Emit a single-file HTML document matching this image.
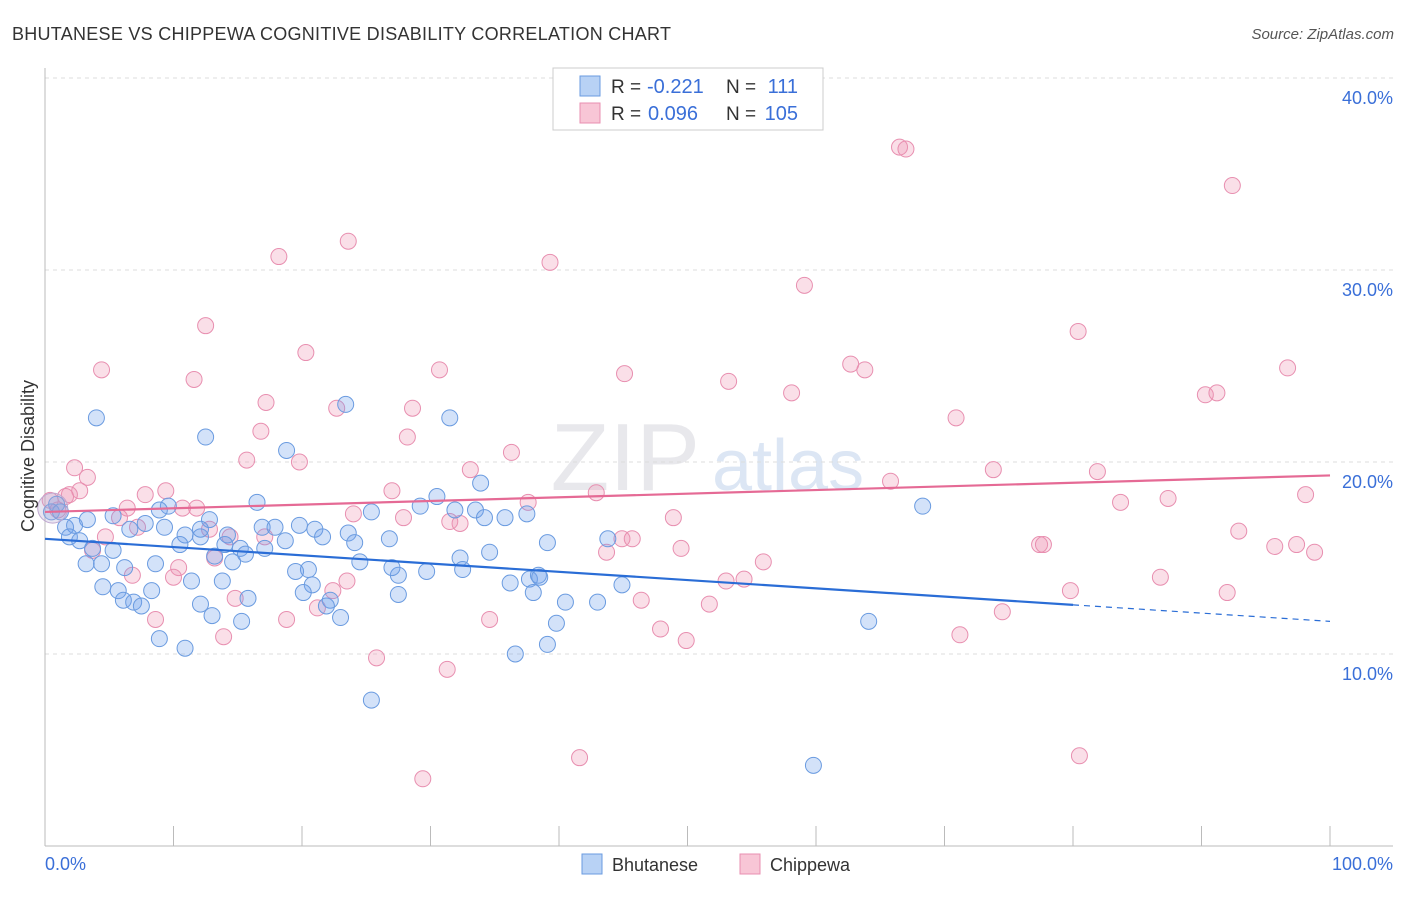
<!DOCTYPE html>
<html><head><meta charset="utf-8"><style>
body{margin:0;background:#fff;font-family:"Liberation Sans",sans-serif;}
svg text{font-family:"Liberation Sans",sans-serif;}
</style></head><body>
<svg id="chart" width="1406" height="892">
<text x="12" y="40" font-size="18" fill="#333" textLength="659">BHUTANESE VS CHIPPEWA COGNITIVE DISABILITY CORRELATION CHART</text>
<text x="1394" y="39" font-size="15" fill="#555" text-anchor="end" font-style="italic">Source: ZipAtlas.com</text>
<text x="700" y="490" font-size="96" fill="#e8e8ec" text-anchor="end" font-family="Liberation Serif">ZIP</text>
<text x="712" y="490" font-size="72" fill="#dce6f4">atlas</text>
<g id="grid"></g><g id="axes"></g><g id="pts"></g><g id="trends"></g>
<text transform="translate(34,456) rotate(-90)" font-size="18" fill="#333" text-anchor="middle">Cognitive Disability</text>
<text x="45" y="870" font-size="18" fill="#3a6fd8">0.0%</text>
<text x="1393" y="870" font-size="18" fill="#3a6fd8" text-anchor="end">100.0%</text>
<g>
<rect x="553" y="68" width="270" height="62" fill="#fff" stroke="#ccc"/>
<rect x="580" y="76" width="20" height="20" fill="#b8d2f5" stroke="#6a9be0"/>
<rect x="580" y="103" width="20" height="20" fill="#f8c6d6" stroke="#e88fb0"/>
<text x="611" y="93" font-size="19" fill="#333">R =</text>
<text x="647" y="93" font-size="20" fill="#3a6fd8">-0.221</text>
<text x="726" y="93" font-size="19" fill="#333">N =</text>
<text x="798" y="93" font-size="20" fill="#3a6fd8" text-anchor="end">111</text>
<text x="611" y="120" font-size="19" fill="#333">R =</text>
<text x="648" y="120" font-size="20" fill="#3a6fd8">0.096</text>
<text x="726" y="120" font-size="19" fill="#333">N =</text>
<text x="798" y="120" font-size="20" fill="#3a6fd8" text-anchor="end">105</text>
</g>
<g><rect x="582" y="854" width="20" height="20" fill="#b8d2f5" stroke="#6a9be0"/><text x="612" y="871" font-size="18" fill="#333">Bhutanese</text></g>
<g><rect x="740" y="854" width="20" height="20" fill="#f8c6d6" stroke="#e88fb0"/><text x="770" y="871" font-size="18" fill="#333">Chippewa</text></g>
</svg>
<script>
const yTicks=[10,20,30,40];
const xTickVals=[0,10,20,30,40,50,60,70,80,90,100];
const blueX=[4.0,12.5,18.8,23.4,31.5,33.9,30.5,68.3,16.5,9.6,29.2,25.4,31.9,33.5,35.8,37.5,34.2,0.9,0.5,1.2,3.3,1.6,2.3,9.3,7.8,6.6,12.8,10.9,14.2,16.9,17.9,19.8,21.0,21.6,23.6,26.8,43.8,39.1,1.9,2.7,5.3,10.5,12.1,15.2,17.1,18.7,14.0,24.1,3.7,3.2,4.4,6.2,8.6,13.2,14.6,15.6,27.5,27.0,32.3,34.6,32.5,29.7,20.5,19.5,4.5,5.7,8.3,11.4,13.8,20.8,20.1,27.5,24.5,36.2,37.7,38.4,38.5,38.0,44.9,40.5,43.0,6.1,6.9,7.5,12.1,13.0,15.8,22.2,21.9,23.0,15.3,39.8,64.1,8.9,10.9,36.6,39.1,25.4,59.8,8.9,5.3,12.1];
const blueY=[22.3,21.3,20.6,23.0,22.3,18.9,18.2,17.7,17.9,17.7,17.7,17.4,17.5,17.5,17.1,17.3,17.1,17.8,17.4,17.4,17.0,16.6,16.7,16.6,16.8,16.5,17.0,16.2,16.2,16.6,16.6,16.7,16.5,16.1,16.3,16.0,16.0,15.8,16.1,15.9,15.4,15.7,16.1,15.5,15.5,15.9,15.7,15.8,15.5,14.7,14.7,14.5,14.7,15.1,14.8,15.2,14.1,14.5,15.0,15.3,14.4,14.3,14.4,14.3,13.5,13.3,13.3,13.8,13.8,13.6,13.2,13.1,14.8,13.7,13.9,14.1,14.0,13.2,13.6,12.7,12.7,12.8,12.7,12.5,12.6,12.0,12.9,12.8,12.5,11.9,11.7,11.6,11.7,10.8,10.3,10.0,10.5,7.6,4.2,17.5,17.2,16.5];
const pinkX=[66.5,67.0,92.4,23.6,18.2,39.3,59.1,12.5,20.3,80.4,11.6,4.4,30.7,45.1,53.2,62.7,63.8,96.7,58.1,90.3,91.2,17.2,22.7,28.6,70.9,16.8,28.2,36.3,15.7,19.8,2.3,3.3,33.1,73.8,81.9,65.8,87.4,98.1,2.7,1.9,9.4,7.8,27.0,42.9,83.7,37.6,6.4,10.7,11.8,5.8,12.8,24.0,27.9,31.5,32.3,48.9,7.2,4.7,14.4,17.1,44.9,45.7,77.4,77.7,92.9,95.7,97.4,98.8,49.5,43.7,3.7,13.2,10.4,10.0,6.8,23.5,22.4,21.2,14.8,53.0,54.4,55.9,86.8,79.8,92.0,46.4,51.7,74.5,8.6,18.8,34.6,47.9,49.9,71.2,13.9,25.8,31.3,41.6,80.5,29.4,0.4,1.0,1.6];
const pinkY=[36.4,36.3,34.4,31.5,30.7,30.4,29.2,27.1,25.7,26.8,24.3,24.8,24.8,24.6,24.2,25.1,24.8,24.9,23.6,23.5,23.6,23.1,22.8,22.8,22.3,21.6,21.3,20.5,20.1,20.0,19.7,19.2,19.6,19.6,19.5,19.0,18.1,18.3,18.5,18.3,18.5,18.3,18.5,18.4,17.9,17.9,17.6,17.6,17.6,17.1,16.5,17.3,17.1,16.9,16.8,17.1,16.6,16.1,16.1,16.1,16.0,16.0,15.7,15.7,16.4,15.6,15.7,15.3,15.5,15.3,15.4,15.0,14.5,14.0,14.1,13.8,13.3,12.4,12.9,13.8,13.9,14.8,14.0,13.3,13.2,12.8,12.6,12.2,11.8,11.8,11.8,11.3,10.7,11.0,10.9,9.8,9.2,4.6,4.7,3.5,18.0,17.5,18.2];
const blueTrend=[16.0,11.7];
const blueSolidEnd=80;
const pinkTrend=[17.4,19.3];
const NS='http://www.w3.org/2000/svg';
const X0=45,X1=1330,YB=846,PPU=19.2;
function xs(v){return X0+(X1-X0)*v/100;}
function ys(v){return YB-v*PPU;}
function mk(t,a,p){const e=document.createElementNS(NS,t);for(const k in a)e.setAttribute(k,a[k]);p.appendChild(e);return e;}
const grid=document.getElementById('grid');
yTicks.forEach(t=>{
 const l=mk('line',{x1:X0,x2:1393,y1:ys(t),y2:ys(t),stroke:'#ddd','stroke-dasharray':'4,4'},grid);
 
 
 const tx=mk('text',{x:1393,y:ys(t)+26,'font-size':18,fill:'#3a6fd8','text-anchor':'end'},grid);
 tx.textContent=t.toFixed(1)+'%';
 
 
});
const axes=document.getElementById('axes');
const ya=mk('line',{x1:X0,x2:X0,y1:68,y2:YB,stroke:'#bbb'},axes);


const xa=mk('line',{x1:X0,x2:1393,y1:YB,y2:YB,stroke:'#bbb'},axes);


xTickVals.forEach(v=>{
 const t=mk('line',{x1:xs(v),x2:xs(v),y1:826,y2:YB,stroke:'#bbb'},axes);
 
 
});
const pts=document.getElementById('pts');
function drawPts(X,Y,fill,stroke,name){X.forEach((x,i)=>{
 const c=mk('circle',{cx:xs(x),cy:ys(Y[i]),r:8,fill:fill,stroke:stroke,'stroke-width':1},pts);
 
 
});}
drawPts(pinkX,pinkY,'rgba(240,150,180,0.3)','#e88fb0','chippewa-point');
drawPts(blueX,blueY,'rgba(110,160,235,0.3)','#6a9be0','bhutanese-point');
const big=mk('circle',{cx:xs(0.6),cy:ys(17.6),r:15,fill:'rgba(180,170,210,0.3)',stroke:'#c0a8d0'},pts);


const tr=document.getElementById('trends');
function lin(a,v){return a[0]+(a[1]-a[0])*v/100;}
const b1=mk('line',{x1:xs(0),y1:ys(blueTrend[0]),x2:xs(blueSolidEnd),y2:ys(lin(blueTrend,blueSolidEnd)),stroke:'#2a6dd6','stroke-width':2.2},tr);


const b2=mk('line',{x1:xs(blueSolidEnd),y1:ys(lin(blueTrend,blueSolidEnd)),x2:xs(100),y2:ys(blueTrend[1]),stroke:'#2a6dd6','stroke-width':1.2,'stroke-dasharray':'6,5'},tr);


const p1=mk('line',{x1:xs(0),y1:ys(pinkTrend[0]),x2:xs(100),y2:ys(pinkTrend[1]),stroke:'#e56a95','stroke-width':2.2},tr);


</script>
</body></html>
